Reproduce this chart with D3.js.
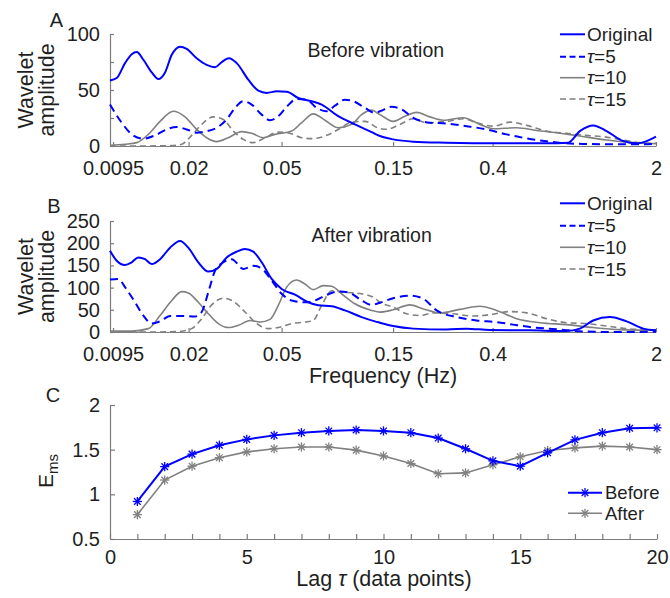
<!DOCTYPE html>
<html><head><meta charset="utf-8">
<script src="https://cdn.jsdelivr.net/npm/d3@7"></script>
<style>
body{margin:0;background:#fff}
svg{display:block}
text{font-family:"Liberation Sans",Arial,Helvetica,sans-serif;fill:#1f1f1f}
</style>
</head><body>
<svg id="c" width="670" height="598"></svg>
<script>
// ---------------- DATA ----------------
const freqTicks = [0.0095, 0.02, 0.05, 0.15, 0.4, 2];
const freqTickLabels = ["0.0095", "0.02", "0.05", "0.15", "0.4", "2"];
const seriesNames = ["Original", "τ=5", "τ=10", "τ=15"];
const yTicksA = [0, 25, 50, 75, 100];
const yTickLabelsA = [0, 50, 100];
const yTicksB = [0, 50, 100, 150, 200, 250];

// Panel A: before vibration  [frequency (Hz), wavelet amplitude]
const beforeOriginal = [[0.00922,58.5],[0.00985,60.7],[0.01069,74],[0.01142,82],[0.0120,84],[0.01281,77],[0.01391,65.7],[0.01485,59.8],[0.01586,65.7],[0.01694,81.4],[0.01839,88.7],[0.01963,86.7],[0.02166,78.4],[0.0239,72.5],[0.02595,70.4],[0.02771,74.9],[0.02978,78.4],[0.03213,74],[0.03601,59.2],[0.03974,49.4],[0.04317,47.4],[0.04764,48.8],[0.05257,48.5],[0.05894,42.9],[0.06725,40],[0.07421,37],[0.0874,26.6],[0.103,19.3],[0.1215,12.4],[0.1318,8.9],[0.1502,5.9],[0.1829,3.9],[0.2542,3],[0.416,2.4],[0.6806,2.4],[0.842,3],[0.945,13.3],[1.077,18.4],[1.229,13.3],[1.447,4.4],[1.652,2.4],[1.823,4.4],[2.0,8.3]];
const beforeTau5 = [[0.00922,37],[0.01035,20.8],[0.01142,10.4],[0.01281,6.6],[0.01437,9.5],[0.01638,15.4],[0.0178,16.9],[0.01963,14.8],[0.02166,11.9],[0.02351,13],[0.02638,16.3],[0.02911,23.7],[0.0316,34],[0.03428,40],[0.03724,37],[0.04109,28],[0.0446,23],[0.0484,26.6],[0.05257,35],[0.05801,42],[0.06402,41.4],[0.07065,34],[0.07796,31],[0.0846,36],[0.09335,41.4],[0.1013,40],[0.1137,34],[0.1254,29.6],[0.1318,31],[0.1478,35],[0.1632,32.6],[0.1829,25.2],[0.2157,20.8],[0.2542,20.1],[0.3096,17.7],[0.377,14.8],[0.459,10.4],[0.559,6.8],[0.6806,4.2],[0.8288,2.4],[1.009,1.8],[1.312,1.5],[1.707,1.5],[2.0,2]];
const beforeTau10 = [[0.00922,0.6],[0.01069,1.5],[0.0120,3],[0.01345,10.4],[0.0151,22],[0.01721,31],[0.01931,26],[0.02166,14.8],[0.0239,7.4],[0.02638,3.9],[0.02957,7.4],[0.03375,12.8],[0.03724,11.3],[0.04175,7.4],[0.04685,10.4],[0.05522,13.3],[0.06094,20.8],[0.06832,28.7],[0.07667,23],[0.0874,16.3],[0.09971,19.3],[0.11,28],[0.1215,32],[0.1318,28],[0.1502,22],[0.1686,26.6],[0.1892,30],[0.2157,26],[0.2458,23],[0.2994,25.2],[0.3529,19.3],[0.4023,15.4],[0.5065,16.3],[0.6169,13.9],[0.7512,11.9],[0.945,8.9],[1.229,5.3],[1.598,3],[2.0,2]];
const beforeTau15 = [[0.00922,0],[0.0122,0],[0.01694,0.3],[0.01869,1.5],[0.02062,9.5],[0.02276,19.3],[0.02552,26],[0.02815,23.7],[0.03107,13.3],[0.03428,5.9],[0.03783,3],[0.04246,7.4],[0.0484,12.4],[0.05431,11.3],[0.06094,7.4],[0.06725,6.6],[0.07796,9.5],[0.0874,14.8],[0.09971,21.3],[0.1137,22],[0.1296,16],[0.1407,15],[0.1605,19.3],[0.1829,24.3],[0.2088,20.8],[0.2542,22],[0.2994,24.3],[0.3416,20.8],[0.4023,17.7],[0.4742,21.3],[0.559,18.4],[0.6806,13.3],[0.8288,11.3],[1.009,9.5],[1.189,8.3],[1.401,5.9],[1.707,3],[2.0,2.4]];

// Panel B: after vibration
const afterOriginal = [[0.00922,183],[0.00985,160.5],[0.01069,151],[0.01142,157],[0.01219,168],[0.01302,164],[0.01391,153],[0.0151,164],[0.01666,190],[0.01839,205],[0.01994,190],[0.02201,157],[0.02429,136],[0.02638,142],[0.02911,168],[0.03213,181],[0.03486,187],[0.03783,181],[0.04109,157],[0.04535,119.5],[0.05005,97],[0.05705,84],[0.06504,67],[0.07177,60],[0.08189,58],[0.09335,48.6],[0.11,33.6],[0.1254,24],[0.1318,21],[0.1502,13.4],[0.1829,7.6],[0.2542,5.4],[0.3096,7.6],[0.3894,4.5],[0.5775,3.8],[0.8288,2.2],[0.945,7.6],[1.077,26],[1.27,33.6],[1.497,24],[1.763,7.6],[2.0,3.8]];
const afterTau5 = [[0.00922,118],[0.01001,119.5],[0.01069,101],[0.0118,67],[0.01281,37],[0.01391,19],[0.0151,24],[0.01666,36],[0.01869,36],[0.02131,35],[0.02276,45],[0.02429,89.5],[0.02595,138],[0.02815,157],[0.03058,164],[0.03428,142],[0.03783,149],[0.04109,143],[0.04535,116],[0.05005,86],[0.05522,71],[0.06296,67],[0.06948,71],[0.07667,82],[0.0874,91],[0.09644,89.5],[0.11,71],[0.1215,61],[0.1318,66],[0.1502,76],[0.1771,82],[0.2019,75],[0.2303,48.6],[0.2805,33.6],[0.3416,26],[0.416,22.4],[0.4899,16.6],[0.5775,11.2],[0.7512,6],[0.945,1.6],[1.312,0],[2.0,0.5]];
const afterTau10 = [[0.00922,2],[0.01142,2],[0.01345,7.6],[0.0151,37],[0.01694,71],[0.01869,91],[0.01994,88],[0.02201,67],[0.02429,41],[0.0268,19],[0.02957,10],[0.03264,15],[0.03662,26],[0.04041,22.4],[0.0446,28.4],[0.0484,60],[0.05257,101],[0.05801,117],[0.06296,108],[0.06832,95.5],[0.0754,104.5],[0.08189,103],[0.09037,86],[0.103,63.5],[0.1215,48.6],[0.1318,44.8],[0.1502,50],[0.1771,61],[0.2019,52],[0.238,43],[0.2898,51],[0.3529,58],[0.416,48.6],[0.5065,30],[0.6373,21],[0.8288,16.6],[1.077,10],[1.401,5.4],[2.0,3.8]];
const afterTau15 = [[0.00922,0],[0.01437,0],[0.01808,1],[0.02062,7.6],[0.02276,30],[0.02511,61],[0.02815,76],[0.03107,69],[0.03486,45],[0.03912,19],[0.04386,7.6],[0.0484,10],[0.05522,19],[0.06296,22.4],[0.06832,26],[0.07421,60],[0.08189,93],[0.09335,89.5],[0.11,86],[0.1254,76],[0.1318,67],[0.1502,56],[0.1714,41],[0.1954,37],[0.2228,43],[0.2713,41],[0.3304,36],[0.3894,39],[0.4742,46],[0.559,43],[0.6806,30],[0.8288,21],[1.009,19],[1.229,13.4],[1.497,7.6],[2.0,3.8]];

// Panel C: E_ms vs lag
const lags = [1,2,3,4,5,6,7,8,9,10,11,12,13,14,15,16,17,18,19,20];
const emsBefore = [0.92,1.31,1.45,1.55,1.615,1.66,1.69,1.71,1.72,1.71,1.69,1.63,1.51,1.375,1.315,1.465,1.61,1.69,1.74,1.745];
const emsAfter  = [0.773,1.16,1.315,1.41,1.475,1.51,1.53,1.53,1.495,1.43,1.345,1.23,1.24,1.33,1.42,1.49,1.52,1.54,1.53,1.50];
const lagTicks = [0,1,2,3,4,5,6,7,8,9,10,11,12,13,14,15,16,17,18,19,20];
const emsTicks = [0.5, 1, 1.5, 2];
const emsSeriesNames = ["Before", "After"];

// ---------------- DRAWING ----------------
const FONT = '"Liberation Sans", Arial, Helvetica, sans-serif';
const BLUE = "#0000ff", GRAY = "#808080", AXIS = "#7c7c7c", INK = "#1f1f1f";
const svg = d3.select("#c");

const styles = [
  {color: BLUE, width: 2, dash: null},
  {color: BLUE, width: 2, dash: "8,5"},
  {color: GRAY, width: 1.6, dash: null},
  {color: GRAY, width: 1.6, dash: "6,4"}
];

function styleAxis(g, fs) {
  g.attr("font-family", null).attr("font-size", null);
  g.select(".domain").attr("stroke", AXIS).attr("stroke-width", 1.2);
  g.selectAll(".tick line").attr("stroke", AXIS).attr("stroke-width", 1.2);
  g.selectAll(".tick text").attr("fill", INK).style("font-size", fs + "px").style("font-family", FONT);
}

function addText(x, y, str, size, anchor) {
  return svg.append("text").attr("x", x).attr("y", y).attr("text-anchor", anchor || "start")
    .style("font-size", size + "px").text(str);
}

function legendLabel(t, name) {
  if (name.startsWith("τ")) {
    t.append("tspan").style("font-style", "italic").text("τ");
    t.append("tspan").text(name.slice(1));
  } else t.text(name);
}

function freqPanel(cfg) {
  const x = d3.scaleLog().domain([0.00922, 2]).range([110, 656]);
  const y = d3.scaleLinear().domain([0, cfg.yMax]).range([cfg.bottom, cfg.top]);

  const gx = svg.append("g").attr("transform", `translate(0,${cfg.bottom})`)
    .call(d3.axisBottom(x).tickValues(freqTicks).tickFormat((d, i) => freqTickLabels[i])
      .tickSizeInner(-4).tickSizeOuter(0).tickPadding(15));
  styleAxis(gx, 20);
  const gy = svg.append("g").attr("transform", `translate(110,0)`)
    .call(d3.axisLeft(y).tickValues(cfg.yTicks).tickFormat(d => cfg.yLabels.includes(d) ? d : "")
      .tickSizeInner(-4).tickSizeOuter(0).tickPadding(10));
  styleAxis(gy, 20);

  const line = d3.line().x(d => x(d[0])).y(d => y(d[1])).curve(d3.curveMonotoneX);
  // draw gray first, blue on top
  [3, 2, 1, 0].forEach(i => {
    const s = styles[i];
    svg.append("path").datum(cfg.series[i]).attr("d", line).attr("fill", "none")
      .attr("stroke", s.color).attr("stroke-width", s.width)
      .attr("stroke-dasharray", s.dash).attr("stroke-linejoin", "round");
  });

  // title
  addText(cfg.titleX, cfg.titleY, cfg.title, 19.5);
  // letter
  addText(cfg.letterX, cfg.letterY, cfg.letter, 20, "middle");
  // y label
  const cy = (cfg.top + cfg.bottom) / 2;
  svg.append("text").attr("transform", `translate(33,${cy}) rotate(-90)`).attr("text-anchor", "middle")
    .style("font-size", "21.5px").text("Wavelet");
  svg.append("text").attr("transform", `translate(54,${cy}) rotate(-90)`).attr("text-anchor", "middle")
    .style("font-size", "21.5px").text("amplitude");

  // legend
  cfg.legendY.forEach((ly, i) => {
    const s = styles[i];
    svg.append("line").attr("x1", 560).attr("x2", 585).attr("y1", ly).attr("y2", ly)
      .attr("stroke", s.color).attr("stroke-width", s.width).attr("stroke-dasharray", s.dash ? "6,3.5" : null);
    const t = svg.append("text").attr("x", 587).attr("y", ly + 6.5).style("font-size", "19px");
    legendLabel(t, seriesNames[i]);
  });
}

freqPanel({
  top: 34, bottom: 146, yMax: 100, yTicks: yTicksA, yLabels: yTickLabelsA,
  series: [beforeOriginal, beforeTau5, beforeTau10, beforeTau15],
  title: "Before vibration", titleX: 307.5, titleY: 57,
  letter: "A", letterX: 56.5, letterY: 27,
  legendY: [34.3, 56.7, 77.7, 99]
});
freqPanel({
  top: 221, bottom: 332, yMax: 250, yTicks: yTicksB, yLabels: yTicksB,
  series: [afterOriginal, afterTau5, afterTau10, afterTau15],
  title: "After vibration", titleX: 311.5, titleY: 242,
  letter: "B", letterX: 54, letterY: 213,
  legendY: [203.3, 225.7, 247.3, 269]
});
addText(383, 383, "Frequency (Hz)", 21.5, "middle");

// ---------- Panel C ----------
(function () {
  const x = d3.scaleLinear().domain([0, 20]).range([110, 657]);
  const y = d3.scaleLinear().domain([0.5, 2]).range([539, 405]);
  const gx = svg.append("g").attr("transform", "translate(0,539)")
    .call(d3.axisBottom(x).tickValues(lagTicks).tickFormat(d => d % 5 === 0 ? d : "")
      .tickSizeInner(-5).tickSizeOuter(0).tickPadding(11));
  styleAxis(gx, 20);
  const gy = svg.append("g").attr("transform", "translate(110,0)")
    .call(d3.axisLeft(y).tickValues(emsTicks).tickFormat(d => d)
      .tickSizeInner(-5).tickSizeOuter(0).tickPadding(10));
  styleAxis(gy, 20);

  const cSeries = [
    {vals: emsBefore, color: BLUE, width: 2},
    {vals: emsAfter, color: GRAY, width: 1.6}
  ];
  function star(g, cx, cy, r, color) {
    const d = r * 0.72;
    const segs = [[0, -r, 0, r], [-r, 0, r, 0], [-d, -d, d, d], [-d, d, d, -d]];
    segs.forEach(s => g.append("line").attr("x1", cx + s[0]).attr("y1", cy + s[1])
      .attr("x2", cx + s[2]).attr("y2", cy + s[3]).attr("stroke", color).attr("stroke-width", 1.3));
  }
  const line = d3.line().x((d, i) => x(lags[i])).y(d => y(d));
  [1, 0].forEach(k => {
    const s = cSeries[k];
    svg.append("path").datum(s.vals).attr("d", line).attr("fill", "none")
      .attr("stroke", s.color).attr("stroke-width", s.width);
    const g = svg.append("g");
    s.vals.forEach((v, i) => star(g, x(lags[i]), y(v), 4.6, s.color));
  });

  // legend
  [492.7, 513.3].forEach((ly, k) => {
    const s = cSeries[k];
    svg.append("line").attr("x1", 568).attr("x2", 602).attr("y1", ly).attr("y2", ly)
      .attr("stroke", s.color).attr("stroke-width", s.width);
    star(svg.append("g"), 585, ly, 4.6, s.color);
    addText(605, ly + 6.5, emsSeriesNames[k], 18.5);
  });

  addText(53, 402, "C", 20, "middle");
  const t = svg.append("text").attr("transform", "translate(53,471) rotate(-90)")
    .attr("text-anchor", "middle").style("font-size", "21px");
  t.append("tspan").text("E");
  t.append("tspan").attr("dy", 5).style("font-size", "15px").text("ms");

  const xl = svg.append("text").attr("x", 384).attr("y", 586).attr("text-anchor", "middle").style("font-size", "21.5px");
  xl.append("tspan").text("Lag ");
  xl.append("tspan").style("font-style", "italic").text("τ");
  xl.append("tspan").text(" (data points)");
})();
</script>
</body></html>
